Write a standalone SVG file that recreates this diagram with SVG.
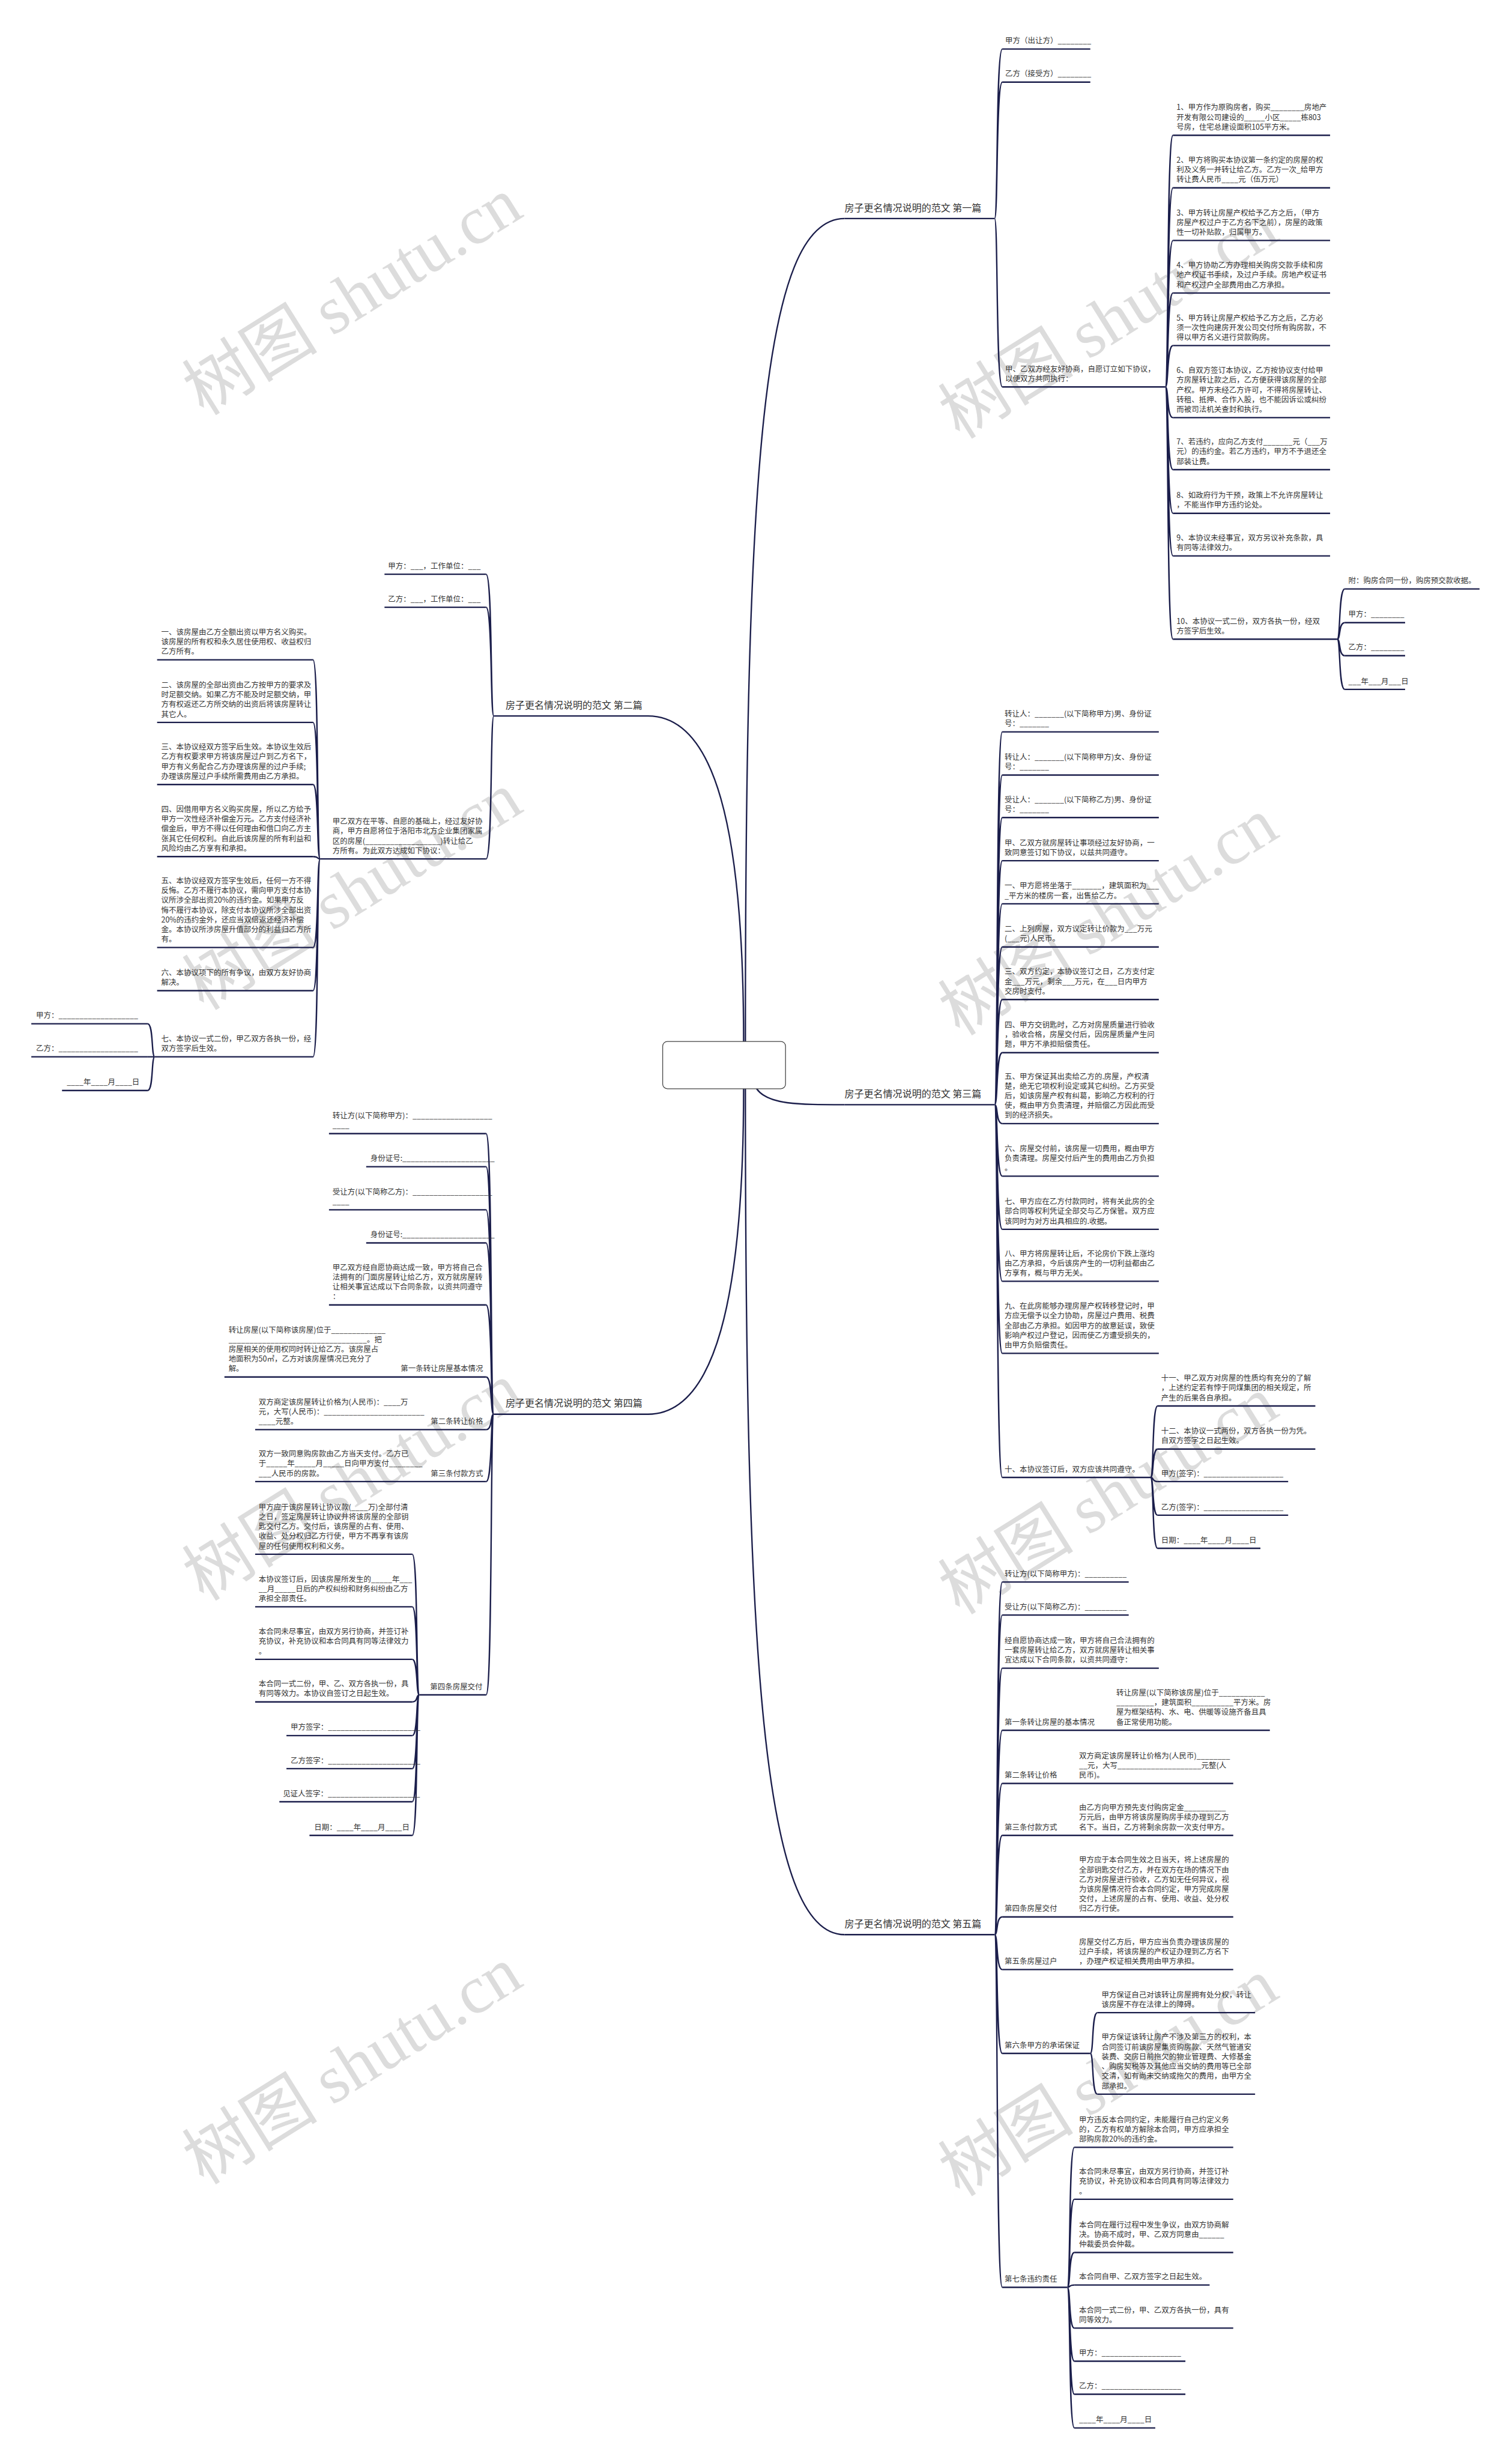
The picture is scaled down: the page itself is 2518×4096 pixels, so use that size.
<svg xmlns="http://www.w3.org/2000/svg" width="2518" height="4096" viewBox="0 0 2518 4096">
<style>
.t{font-family:"Noto Sans CJK SC","Noto Sans",sans-serif;font-size:12.7px;fill:#333}
.m{font-size:16.3px}
.e{text-anchor:end}
.u,.c{fill:none;stroke:#1b1e4b;stroke-width:2.4}
.w{font-family:"Noto Sans CJK SC",sans-serif;font-size:115px;fill:#dcdcdc}
.ws{font-family:"Liberation Serif",serif}
</style>
<rect width="2518" height="4096" fill="#fff"/>
<g transform="scale(0.9836)">
<g id="watermark">
<text class="w" x="345" y="705" transform="rotate(-32 345 705)">树图 <tspan class="ws">shutu.cn</tspan></text>
<text class="w" x="345" y="1712" transform="rotate(-32 345 1712)">树图 <tspan class="ws">shutu.cn</tspan></text>
<text class="w" x="345" y="2712" transform="rotate(-32 345 2712)">树图 <tspan class="ws">shutu.cn</tspan></text>
<text class="w" x="345" y="3700" transform="rotate(-32 345 3700)">树图 <tspan class="ws">shutu.cn</tspan></text>
<text class="w" x="1625" y="745" transform="rotate(-32 1625 745)">树图 <tspan class="ws">shutu.cn</tspan></text>
<text class="w" x="1625" y="1755" transform="rotate(-32 1625 1755)">树图 <tspan class="ws">shutu.cn</tspan></text>
<text class="w" x="1625" y="2735" transform="rotate(-32 1625 2735)">树图 <tspan class="ws">shutu.cn</tspan></text>
<text class="w" x="1625" y="3720" transform="rotate(-32 1625 3720)">树图 <tspan class="ws">shutu.cn</tspan></text>
</g>
<g id="connectors">
<path class="c" d="M1262 1763 C1262 800 1290 370 1430 370"/>
<path class="c" d="M1281 1843 C1300 1870 1350 1870 1430 1870"/>
<path class="c" d="M1262 1843 C1262 2800 1290 3275 1430 3275"/>
<path class="c" d="M1259 1763 C1259 1400 1210 1212 1097 1212"/>
<path class="c" d="M1259 1843 C1259 2200 1210 2394 1097 2394"/>
<path class="c" d="M1684 370 C1690 370 1686 83 1697 83 M1684 370 C1690 370 1686 139 1697 139 M1684 370 C1690 370 1686 655 1697 655"/>
<path class="c" d="M1973 655 C1979 655 1975 229 1986 229 M1973 655 C1979 655 1975 318 1986 318 M1973 655 C1979 655 1975 407 1986 407 M1973 655 C1979 655 1975 496 1986 496 M1973 655 C1979 655 1975 585 1986 585 M1973 655 C1979 655 1975 707 1986 707 M1973 655 C1979 655 1975 795 1986 795 M1973 655 C1979 655 1975 869 1986 869 M1973 655 C1979 655 1975 941 1986 941 M1973 655 C1979 655 1975 1082 1986 1082"/>
<path class="c" d="M2264 1082 C2270 1082 2266 997 2277 997 M2264 1082 C2270 1082 2266 1054 2277 1054 M2264 1082 C2270 1082 2266 1110 2277 1110 M2264 1082 C2270 1082 2266 1167 2277 1167"/>
<path class="c" d="M1684 1870 C1690 1870 1686 1239 1697 1239 M1684 1870 C1690 1870 1686 1312 1697 1312 M1684 1870 C1690 1870 1686 1384 1697 1384 M1684 1870 C1690 1870 1686 1457 1697 1457 M1684 1870 C1690 1870 1686 1530 1697 1530 M1684 1870 C1690 1870 1686 1603 1697 1603 M1684 1870 C1690 1870 1686 1692 1697 1692 M1684 1870 C1690 1870 1686 1782 1697 1782 M1684 1870 C1690 1870 1686 1902 1697 1902 M1684 1870 C1690 1870 1686 1991 1697 1991 M1684 1870 C1690 1870 1686 2081 1697 2081 M1684 1870 C1690 1870 1686 2169 1697 2169 M1684 1870 C1690 1870 1686 2291 1697 2291 M1684 1870 C1690 1870 1686 2501 1697 2501"/>
<path class="c" d="M1948 2501 C1954 2501 1950 2380 1960 2380 M1948 2501 C1954 2501 1950 2453 1960 2453 M1948 2501 C1954 2501 1950 2508 1960 2508 M1948 2501 C1954 2501 1950 2565 1960 2565 M1948 2501 C1954 2501 1950 2621 1960 2621"/>
<path class="c" d="M1684 3275 C1690 3275 1686 2678 1697 2678 M1684 3275 C1690 3275 1686 2734 1697 2734 M1684 3275 C1690 3275 1686 2824 1697 2824 M1684 3275 C1690 3275 1686 2929 1697 2929 M1684 3275 C1690 3275 1686 3019 1697 3019 M1684 3275 C1690 3275 1686 3107 1697 3107 M1684 3275 C1690 3275 1686 3245 1697 3245 M1684 3275 C1690 3275 1686 3334 1697 3334 M1684 3275 C1690 3275 1686 3476 1697 3476 M1684 3275 C1690 3275 1686 3872 1697 3872"/>
<path class="c" d="M1846 3476 C1852 3476 1848 3407 1858 3407 M1846 3476 C1852 3476 1848 3545 1858 3545"/>
<path class="c" d="M1807 3872 C1813 3872 1809 3635 1819 3635 M1807 3872 C1813 3872 1809 3723 1819 3723 M1807 3872 C1813 3872 1809 3813 1819 3813 M1807 3872 C1813 3872 1809 3868 1819 3868 M1807 3872 C1813 3872 1809 3941 1819 3941 M1807 3872 C1813 3872 1809 3997 1819 3997 M1807 3872 C1813 3872 1809 4053 1819 4053 M1807 3872 C1813 3872 1809 4110 1819 4110"/>
<path class="c" d="M836 1212 C830 1212 834 972 823 972 M836 1212 C830 1212 834 1028 823 1028 M836 1212 C830 1212 834 1454 823 1454"/>
<path class="c" d="M542 1454 C536 1454 540 1117 530 1117 M542 1454 C536 1454 540 1223 530 1223 M542 1454 C536 1454 540 1328 530 1328 M542 1454 C536 1454 540 1450 530 1450 M542 1454 C536 1454 540 1604 530 1604 M542 1454 C536 1454 540 1677 530 1677 M542 1454 C536 1454 540 1789 530 1789"/>
<path class="c" d="M262 1789 C256 1789 260 1733 250 1733 M262 1789 L250 1789 M262 1789 C256 1789 260 1846 250 1846"/>
<path class="c" d="M836 2394 C830 2394 834 1919 823 1919 M836 2394 C830 2394 834 1975 823 1975 M836 2394 C830 2394 834 2048 823 2048 M836 2394 C830 2394 834 2104 823 2104 M836 2394 C830 2394 834 2209 823 2209 M836 2394 C830 2394 834 2331 823 2331 M836 2394 C830 2394 834 2420 823 2420 M836 2394 C830 2394 834 2508 823 2508 M836 2394 C830 2394 834 2869 823 2869"/>
<path class="c" d="M710 2869 C704 2869 708 2631 698 2631 M710 2869 C704 2869 708 2720 698 2720 M710 2869 C704 2869 708 2809 698 2809 M710 2869 C704 2869 708 2881 698 2881 M710 2869 C704 2869 708 2938 698 2938 M710 2869 C704 2869 708 2994 698 2994 M710 2869 C704 2869 708 3050 698 3050 M710 2869 C704 2869 708 3107 698 3107"/>
</g>
<g id="root"><rect x="1122" y="1763" width="208" height="80" rx="8" fill="#fff" stroke="#444" stroke-width="1.3"/></g>

<g id="b1"><text class="t m" x="1430" y="357.5">房子更名情况说明的范文 第一篇</text><path class="u" d="M1430 370 H1684"/></g>
<g id="b1-1"><text class="t" x="1702" y="73.5">甲方（出让方）________</text><path class="u" d="M1697 83 H1846"/></g>
<g id="b1-2"><text class="t" x="1702" y="129.5">乙方（接受方）________</text><path class="u" d="M1697 139 H1846"/></g>
<g id="b1-3"><text class="t" x="1702" y="629">甲、乙双方经友好协商，自愿订立如下协议，<tspan x="1702" dy="16.5">以便双方共同执行：</tspan></text><path class="u" d="M1697 655 H1973"/></g>
<g id="b1-3-1"><text class="t" x="1992" y="186.5">1、甲方作为原购房者，购买________房地产<tspan x="1992" dy="16.5">开发有限公司建设的_____小区_____栋803</tspan><tspan x="1992" dy="16.5">号房，住宅总建设面积105平方米。</tspan></text><path class="u" d="M1986 229 H2252"/></g>
<g id="b1-3-2"><text class="t" x="1992" y="275.5">2、甲方将购买本协议第一条约定的房屋的权<tspan x="1992" dy="16.5">利及义务一并转让给乙方。乙方一次_给甲方</tspan><tspan x="1992" dy="16.5">转让费人民币____元（伍万元）</tspan></text><path class="u" d="M1986 318 H2252"/></g>
<g id="b1-3-3"><text class="t" x="1992" y="364.5">3、甲方转让房屋产权给予乙方之后，（甲方<tspan x="1992" dy="16.5">房屋产权过户于乙方名下之前），房屋的政策</tspan><tspan x="1992" dy="16.5">性一切补贴款，归属甲方。</tspan></text><path class="u" d="M1986 407 H2252"/></g>
<g id="b1-3-4"><text class="t" x="1992" y="453.5">4、甲方协助乙方办理相关购房交款手续和房<tspan x="1992" dy="16.5">地产权证书手续，及过户手续。房地产权证书</tspan><tspan x="1992" dy="16.5">和产权过户全部费用由乙方承担。</tspan></text><path class="u" d="M1986 496 H2252"/></g>
<g id="b1-3-5"><text class="t" x="1992" y="542.5">5、甲方转让房屋产权给予乙方之后，乙方必<tspan x="1992" dy="16.5">须一次性向建房开发公司交付所有购房款，不</tspan><tspan x="1992" dy="16.5">得以甲方名义进行贷款购房。</tspan></text><path class="u" d="M1986 585 H2252"/></g>
<g id="b1-3-6"><text class="t" x="1992" y="631.5">6、自双方签订本协议，乙方按协议支付给甲<tspan x="1992" dy="16.5">方房屋转让款之后，乙方便获得该房屋的全部</tspan><tspan x="1992" dy="16.5">产权。甲方未经乙方许可，不得将房屋转让、</tspan><tspan x="1992" dy="16.5">转租、抵押、合作入股，也不能因诉讼或纠纷</tspan><tspan x="1992" dy="16.5">而被司法机关查封和执行。</tspan></text><path class="u" d="M1986 707 H2252"/></g>
<g id="b1-3-7"><text class="t" x="1992" y="752.5">7、若违约，应向乙方支付_______元（___万<tspan x="1992" dy="16.5">元）的违约金。若乙方违约，甲方不予退还全</tspan><tspan x="1992" dy="16.5">部装让费。</tspan></text><path class="u" d="M1986 795 H2252"/></g>
<g id="b1-3-8"><text class="t" x="1992" y="843">8、如政府行为干预，政策上不允许房屋转让<tspan x="1992" dy="16.5">，不能当作甲方违约论处。</tspan></text><path class="u" d="M1986 869 H2252"/></g>
<g id="b1-3-9"><text class="t" x="1992" y="915">9、本协议未经事宜，双方另议补充条款，具<tspan x="1992" dy="16.5">有同等法律效力。</tspan></text><path class="u" d="M1986 941 H2252"/></g>
<g id="b1-3-10"><text class="t" x="1992" y="1056">10、本协议一式二份，双方各执一份，经双<tspan x="1992" dy="16.5">方签字后生效。</tspan></text><path class="u" d="M1986 1082 H2264"/></g>
<g id="b1-3-10-1"><text class="t" x="2283" y="987.5">附：购房合同一份，购房预交款收据。</text><path class="u" d="M2277 997 H2505"/></g>
<g id="b1-3-10-2"><text class="t" x="2283" y="1044.5">甲方：________</text><path class="u" d="M2277 1054 H2379"/></g>
<g id="b1-3-10-3"><text class="t" x="2283" y="1100.5">乙方：________</text><path class="u" d="M2277 1110 H2379"/></g>
<g id="b1-3-10-4"><text class="t" x="2283" y="1157.5">___年___月___日</text><path class="u" d="M2277 1167 H2379"/></g>

<g id="b3"><text class="t m" x="1430" y="1857.5">房子更名情况说明的范文 第三篇</text><path class="u" d="M1430 1870 H1684"/></g>
<g id="b3-1"><text class="t" x="1701" y="1213">转让人：_______(以下简称甲方)男、身份证<tspan x="1701" dy="16.5">号：_______</tspan></text><path class="u" d="M1697 1239 H1962"/></g>
<g id="b3-2"><text class="t" x="1701" y="1286">转让人：_______(以下简称甲方)女、身份证<tspan x="1701" dy="16.5">号：_______</tspan></text><path class="u" d="M1697 1312 H1962"/></g>
<g id="b3-3"><text class="t" x="1701" y="1358">受让人：_______(以下简称乙方)男、身份证<tspan x="1701" dy="16.5">号：_______</tspan></text><path class="u" d="M1697 1384 H1962"/></g>
<g id="b3-4"><text class="t" x="1701" y="1431">甲、乙双方就房屋转让事项经过友好协商，一<tspan x="1701" dy="16.5">致同意签订如下协议，以兹共同遵守。</tspan></text><path class="u" d="M1697 1457 H1962"/></g>
<g id="b3-5"><text class="t" x="1701" y="1504">一、甲方愿将坐落于_______，建筑面积为___<tspan x="1701" dy="16.5">_平方米的楼房一套，出售给乙方。</tspan></text><path class="u" d="M1697 1530 H1962"/></g>
<g id="b3-6"><text class="t" x="1701" y="1577">二、上列房屋，双方议定转让价款为___万元<tspan x="1701" dy="16.5">(___元)人民币。</tspan></text><path class="u" d="M1697 1603 H1962"/></g>
<g id="b3-7"><text class="t" x="1701" y="1649.5">三、双方约定，本协议签订之日，乙方支付定<tspan x="1701" dy="16.5">金___万元，剩余___万元，在___日内甲方</tspan><tspan x="1701" dy="16.5">交房时支付。</tspan></text><path class="u" d="M1697 1692 H1962"/></g>
<g id="b3-8"><text class="t" x="1701" y="1739.5">四、甲方交钥匙时，乙方对房屋质量进行验收<tspan x="1701" dy="16.5">，验收合格，房屋交付后，因房屋质量产生问</tspan><tspan x="1701" dy="16.5">题，甲方不承担赔偿责任。</tspan></text><path class="u" d="M1697 1782 H1962"/></g>
<g id="b3-9"><text class="t" x="1701" y="1826.5">五、甲方保证其出卖给乙方的.房屋，产权清<tspan x="1701" dy="16.5">楚，绝无它项权利设定或其它纠纷。乙方买受</tspan><tspan x="1701" dy="16.5">后，如该房屋产权有纠葛，影响乙方权利的行</tspan><tspan x="1701" dy="16.5">使，概由甲方负责清理，并赔偿乙方因此而受</tspan><tspan x="1701" dy="16.5">到的经济损失。</tspan></text><path class="u" d="M1697 1902 H1962"/></g>
<g id="b3-10"><text class="t" x="1701" y="1948.5">六、房屋交付前，该房屋一切费用，概由甲方<tspan x="1701" dy="16.5">负责清理。房屋交付后产生的费用由乙方负担</tspan><tspan x="1701" dy="16.5">。</tspan></text><path class="u" d="M1697 1991 H1962"/></g>
<g id="b3-11"><text class="t" x="1701" y="2038.5">七、甲方应在乙方付款同时，将有关此房的全<tspan x="1701" dy="16.5">部合同等权利凭证全部交与乙方保管。双方应</tspan><tspan x="1701" dy="16.5">该同时为对方出具相应的.收据。</tspan></text><path class="u" d="M1697 2081 H1962"/></g>
<g id="b3-12"><text class="t" x="1701" y="2126.5">八、甲方将房屋转让后，不论房价下跌上涨均<tspan x="1701" dy="16.5">由乙方承担，今后该房产生的一切利益都由乙</tspan><tspan x="1701" dy="16.5">方享有，概与甲方无关。</tspan></text><path class="u" d="M1697 2169 H1962"/></g>
<g id="b3-13"><text class="t" x="1701" y="2215.5">九、在此房能够办理房屋产权转移登记时，甲<tspan x="1701" dy="16.5">方应无偿予以全力协助，房屋过户费用、税费</tspan><tspan x="1701" dy="16.5">全部由乙方承担。如因甲方的故意延误，致使</tspan><tspan x="1701" dy="16.5">影响产权过户登记，因而使乙方遭受损失的，</tspan><tspan x="1701" dy="16.5">由甲方负赔偿责任。</tspan></text><path class="u" d="M1697 2291 H1962"/></g>
<g id="b3-14"><text class="t" x="1701" y="2491.5">十、本协议签订后，双方应该共同遵守。</text><path class="u" d="M1697 2501 H1948"/></g>
<g id="b3-14-1"><text class="t" x="1966" y="2337.5">十一、甲乙双方对房屋的性质均有充分的了解<tspan x="1966" dy="16.5">，上述约定若有悖于同煤集团的相关规定，所</tspan><tspan x="1966" dy="16.5">产生的后果各自承担。</tspan></text><path class="u" d="M1960 2380 H2227"/></g>
<g id="b3-14-2"><text class="t" x="1966" y="2427">十二、本协议一式两份，双方各执一份为凭。<tspan x="1966" dy="16.5">自双方签字之日起生效。</tspan></text><path class="u" d="M1960 2453 H2227"/></g>
<g id="b3-14-3"><text class="t" x="1966" y="2498.5">甲方(签字)：___________________</text><path class="u" d="M1960 2508 H2181"/></g>
<g id="b3-14-4"><text class="t" x="1966" y="2555.5">乙方(签字)：___________________</text><path class="u" d="M1960 2565 H2181"/></g>
<g id="b3-14-5"><text class="t" x="1966" y="2611.5">日期：____年____月____日</text><path class="u" d="M1960 2621 H2134"/></g>

<g id="b5"><text class="t m" x="1430" y="3262.5">房子更名情况说明的范文 第五篇</text><path class="u" d="M1430 3275 H1684"/></g>
<g id="b5-1"><text class="t" x="1701" y="2668.5">转让方(以下简称甲方)：__________</text><path class="u" d="M1697 2678 H1911"/></g>
<g id="b5-2"><text class="t" x="1701" y="2724.5">受让方(以下简称乙方)：__________</text><path class="u" d="M1697 2734 H1911"/></g>
<g id="b5-3"><text class="t" x="1701" y="2781.5">经自愿协商达成一致，甲方将自己合法拥有的<tspan x="1701" dy="16.5">一套房屋转让给乙方，双方就房屋转让相关事</tspan><tspan x="1701" dy="16.5">宜达成以下合同条款，以资共同遵守：</tspan></text><path class="u" d="M1697 2824 H1962"/></g>
<g id="b5-4"><text class="t" x="1701" y="2919.5">第一条转让房屋的基本情况</text><path class="u" d="M1697 2929 H2150"/></g>
<g id="b5-4-1"><text class="t" x="1890" y="2870">转让房屋(以下简称该房屋)位于___________<tspan x="1890" dy="16.5">_________，建筑面积__________平方米。房</tspan><tspan x="1890" dy="16.5">屋为框架结构、水、电、供暖等设施齐备且具</tspan><tspan x="1890" dy="16.5">备正常使用功能。</tspan></text></g>
<g id="b5-5"><text class="t" x="1701" y="3009.5">第二条转让价格</text><path class="u" d="M1697 3019 H2088"/></g>
<g id="b5-5-1"><text class="t" x="1827" y="2976.5">双方商定该房屋转让价格为(人民币)________<tspan x="1827" dy="16.5">__元，大写____________________元整(人</tspan><tspan x="1827" dy="16.5">民币)。</tspan></text></g>
<g id="b5-6"><text class="t" x="1701" y="3097.5">第三条付款方式</text><path class="u" d="M1697 3107 H2088"/></g>
<g id="b5-6-1"><text class="t" x="1827" y="3064.5">由乙方向甲方预先支付购房定金__________<tspan x="1827" dy="16.5">万元后，由甲方将该房屋购房手续办理到乙方</tspan><tspan x="1827" dy="16.5">名下。当日，乙方将剩余房款一次支付甲方。</tspan></text></g>
<g id="b5-7"><text class="t" x="1701" y="3235.5">第四条房屋交付</text><path class="u" d="M1697 3245 H2088"/></g>
<g id="b5-7-1"><text class="t" x="1827" y="3153">甲方应于本合同生效之日当天，将上述房屋的<tspan x="1827" dy="16.5">全部钥匙交付乙方，并在双方在场的情况下由</tspan><tspan x="1827" dy="16.5">乙方对房屋进行验收，乙方如无任何异议，视</tspan><tspan x="1827" dy="16.5">为该房屋情况符合本合同约定，甲方完成房屋</tspan><tspan x="1827" dy="16.5">交付，上述房屋的占有、使用、收益、处分权</tspan><tspan x="1827" dy="16.5">归乙方行使。</tspan></text></g>
<g id="b5-8"><text class="t" x="1701" y="3324.5">第五条房屋过户</text><path class="u" d="M1697 3334 H2088"/></g>
<g id="b5-8-1"><text class="t" x="1827" y="3291.5">房屋交付乙方后，甲方应当负责办理该房屋的<tspan x="1827" dy="16.5">过户手续，将该房屋的产权证办理到乙方名下</tspan><tspan x="1827" dy="16.5">，办理产权证相关费用由甲方承担。</tspan></text></g>
<g id="b5-9"><text class="t" x="1701" y="3466.5">第六条甲方的承诺保证</text><path class="u" d="M1697 3476 H1846"/></g>
<g id="b5-9-1"><text class="t" x="1865" y="3381">甲方保证自己对该转让房屋拥有处分权，转让<tspan x="1865" dy="16.5">该房屋不存在法律上的障碍。</tspan></text><path class="u" d="M1858 3407 H2125"/></g>
<g id="b5-9-2"><text class="t" x="1865" y="3453">甲方保证该转让房产不涉及第三方的权利，本<tspan x="1865" dy="16.5">合同签订前该房屋集资购房款、天然气管道安</tspan><tspan x="1865" dy="16.5">装费、交房日前拖欠的物业管理费、大修基金</tspan><tspan x="1865" dy="16.5">、购房契税等及其他应当交纳的费用等已全部</tspan><tspan x="1865" dy="16.5">交清，如有尚未交纳或拖欠的费用，由甲方全</tspan><tspan x="1865" dy="16.5">部承担。</tspan></text><path class="u" d="M1858 3545 H2125"/></g>
<g id="b5-10"><text class="t" x="1701" y="3862.5">第七条违约责任</text><path class="u" d="M1697 3872 H1807"/></g>
<g id="b5-10-1"><text class="t" x="1827" y="3592.5">甲方违反本合同约定，未能履行自己约定义务<tspan x="1827" dy="16.5">的，乙方有权单方解除本合同，甲方应承担全</tspan><tspan x="1827" dy="16.5">部购房款20%的违约金。</tspan></text><path class="u" d="M1819 3635 H2088"/></g>
<g id="b5-10-2"><text class="t" x="1827" y="3680.5">本合同未尽事宜，由双方另行协商，并签订补<tspan x="1827" dy="16.5">充协议，补充协议和本合同具有同等法律效力</tspan><tspan x="1827" dy="16.5">。</tspan></text><path class="u" d="M1819 3723 H2088"/></g>
<g id="b5-10-3"><text class="t" x="1827" y="3770.5">本合同在履行过程中发生争议，由双方协商解<tspan x="1827" dy="16.5">决。协商不成时，甲、乙双方同意由______</tspan><tspan x="1827" dy="16.5">仲裁委员会仲裁。</tspan></text><path class="u" d="M1819 3813 H2088"/></g>
<g id="b5-10-4"><text class="t" x="1827" y="3858.5">本合同自甲、乙双方签字之日起生效。</text><path class="u" d="M1819 3868 H2048"/></g>
<g id="b5-10-5"><text class="t" x="1827" y="3915">本合同一式二份，甲、乙双方各执一份，具有<tspan x="1827" dy="16.5">同等效力。</tspan></text><path class="u" d="M1819 3941 H2088"/></g>
<g id="b5-10-6"><text class="t" x="1827" y="3987.5">甲方：___________________</text><path class="u" d="M1819 3997 H2007"/></g>
<g id="b5-10-7"><text class="t" x="1827" y="4043.5">乙方：___________________</text><path class="u" d="M1819 4053 H2007"/></g>
<g id="b5-10-8"><text class="t" x="1827" y="4100.5">____年____月____日</text><path class="u" d="M1819 4110 H1956"/></g>

<g id="b2"><text class="t m" x="856" y="1199.5">房子更名情况说明的范文 第二篇</text><path class="u" d="M1097 1212 H836"/></g>
<g id="b2-1"><text class="t" x="657" y="962.5">甲方：___，工作单位：___</text><path class="u" d="M823 972 H651"/></g>
<g id="b2-2"><text class="t" x="657" y="1018.5">乙方：___，工作单位：___</text><path class="u" d="M823 1028 H651"/></g>
<g id="b2-3"><text class="t" x="563" y="1395">甲乙双方在平等、自愿的基础上，经过友好协<tspan x="563" dy="16.5">商，甲方自愿将位于洛阳市北方企业集团家属</tspan><tspan x="563" dy="16.5">区的房屋(__________________)转让给乙</tspan><tspan x="563" dy="16.5">方所有。为此双方达成如下协议：</tspan></text><path class="u" d="M823 1454 H542"/></g>
<g id="b2-3-1"><text class="t" x="273" y="1074.5">一、该房屋由乙方全额出资以甲方名义购买。<tspan x="273" dy="16.5">该房屋的所有权和永久居住使用权、收益权归</tspan><tspan x="273" dy="16.5">乙方所有。</tspan></text><path class="u" d="M530 1117 H266"/></g>
<g id="b2-3-2"><text class="t" x="273" y="1164">二、该房屋的全部出资由乙方按甲方的要求及<tspan x="273" dy="16.5">时足额交纳。如果乙方不能及时足额交纳，甲</tspan><tspan x="273" dy="16.5">方有权返还乙方所交纳的出资后将该房屋转让</tspan><tspan x="273" dy="16.5">其它人。</tspan></text><path class="u" d="M530 1223 H266"/></g>
<g id="b2-3-3"><text class="t" x="273" y="1269">三、本协议经双方签字后生效。本协议生效后<tspan x="273" dy="16.5">乙方有权要求甲方将该房屋过户到乙方名下，</tspan><tspan x="273" dy="16.5">甲方有义务配合乙方办理该房屋的过户手续;</tspan><tspan x="273" dy="16.5">办理该房屋过户手续所需费用由乙方承担。</tspan></text><path class="u" d="M530 1328 H266"/></g>
<g id="b2-3-4"><text class="t" x="273" y="1374.5">四、因借用甲方名义购买房屋，所以乙方给予<tspan x="273" dy="16.5">甲方一次性经济补偿金万元。乙方支付经济补</tspan><tspan x="273" dy="16.5">偿金后，甲方不得以任何理由和借口向乙方主</tspan><tspan x="273" dy="16.5">张其它任何权利。自此后该房屋的所有利益和</tspan><tspan x="273" dy="16.5">风险均由乙方享有和承担。</tspan></text><path class="u" d="M530 1450 H266"/></g>
<g id="b2-3-5"><text class="t" x="273" y="1495.5">五、本协议经双方签字生效后，任何一方不得<tspan x="273" dy="16.5">反悔。乙方不履行本协议，需向甲方支付本协</tspan><tspan x="273" dy="16.5">议所涉全部出资20%的违约金。如果甲方反</tspan><tspan x="273" dy="16.5">悔不履行本协议，除支付本协议所涉全部出资</tspan><tspan x="273" dy="16.5">20%的违约金外，还应当双倍返还经济补偿</tspan><tspan x="273" dy="16.5">金。本协议所涉房屋升值部分的利益归乙方所</tspan><tspan x="273" dy="16.5">有。</tspan></text><path class="u" d="M530 1604 H266"/></g>
<g id="b2-3-6"><text class="t" x="273" y="1651">六、本协议项下的所有争议，由双方友好协商<tspan x="273" dy="16.5">解决。</tspan></text><path class="u" d="M530 1677 H266"/></g>
<g id="b2-3-7"><text class="t" x="273" y="1763">七、本协议一式二份，甲乙双方各执一份，经<tspan x="273" dy="16.5">双方签字后生效。</tspan></text><path class="u" d="M530 1789 H262"/></g>
<g id="b2-3-7-1"><text class="t" x="61" y="1723.5">甲方：___________________</text><path class="u" d="M250 1733 H53"/></g>
<g id="b2-3-7-2"><text class="t" x="61" y="1779.5">乙方：___________________</text><path class="u" d="M250 1789 H53"/></g>
<g id="b2-3-7-3"><text class="t" x="113" y="1836.5">____年____月____日</text><path class="u" d="M250 1846 H105"/></g>

<g id="b4"><text class="t m" x="856" y="2381.5">房子更名情况说明的范文 第四篇</text><path class="u" d="M1097 2394 H836"/></g>
<g id="b4-1"><text class="t" x="563" y="1893">转让方(以下简称甲方)：___________________<tspan x="563" dy="16.5">____</tspan></text><path class="u" d="M823 1919 H557"/></g>
<g id="b4-2"><text class="t" x="627" y="1965.5">身份证号:______________________</text><path class="u" d="M823 1975 H620"/></g>
<g id="b4-3"><text class="t" x="563" y="2022">受让方(以下简称乙方)：___________________<tspan x="563" dy="16.5">____</tspan></text><path class="u" d="M823 2048 H557"/></g>
<g id="b4-4"><text class="t" x="627" y="2094.5">身份证号:______________________</text><path class="u" d="M823 2104 H620"/></g>
<g id="b4-5"><text class="t" x="563" y="2150">甲乙双方经自愿协商达成一致，甲方将自己合<tspan x="563" dy="16.5">法拥有的门面房屋转让给乙方，双方就房屋转</tspan><tspan x="563" dy="16.5">让相关事宜达成以下合同条款，以资共同遵守</tspan><tspan x="563" dy="16.5">：</tspan></text><path class="u" d="M823 2209 H557"/></g>
<g id="b4-6"><text class="t e" x="818" y="2321.5">第一条转让房屋基本情况</text><path class="u" d="M823 2331 H380"/></g>
<g id="b4-6-1"><text class="t" x="387" y="2255.5">转让房屋(以下简称该房屋)位于_____________<tspan x="387" dy="16.5">_________________________________。把</tspan><tspan x="387" dy="16.5">房屋相关的使用权同时转让给乙方。该房屋占</tspan><tspan x="387" dy="16.5">地面积为50㎡，乙方对该房屋情况已充分了</tspan><tspan x="387" dy="16.5">解。</tspan></text></g>
<g id="b4-7"><text class="t e" x="818" y="2410.5">第二条转让价格</text><path class="u" d="M823 2420 H432"/></g>
<g id="b4-7-1"><text class="t" x="438" y="2377.5">双方商定该房屋转让价格为(人民币)：____万<tspan x="438" dy="16.5">元，大写(人民币)：________________________</tspan><tspan x="438" dy="16.5">____元整。</tspan></text></g>
<g id="b4-8"><text class="t e" x="818" y="2498.5">第三条付款方式</text><path class="u" d="M823 2508 H432"/></g>
<g id="b4-8-1"><text class="t" x="438" y="2465.5">双方一致同意购房款由乙方当天支付。乙方已<tspan x="438" dy="16.5">于_____年_____月_____日向甲方支付________</tspan><tspan x="438" dy="16.5">___人民币的房款。</tspan></text></g>
<g id="b4-9"><text class="t e" x="817" y="2859.5">第四条房屋交付</text><path class="u" d="M823 2869 H710"/></g>
<g id="b4-9-1"><text class="t" x="438" y="2555.5">甲方应于该房屋转让协议款(____万)全部付清<tspan x="438" dy="16.5">之日，签定房屋转让协议并将该房屋的全部钥</tspan><tspan x="438" dy="16.5">匙交付乙方。交付后，该房屋的占有、使用、</tspan><tspan x="438" dy="16.5">收益、处分权归乙方行使，甲方不再享有该房</tspan><tspan x="438" dy="16.5">屋的任何使用权利和义务。</tspan></text><path class="u" d="M698 2631 H432"/></g>
<g id="b4-9-2"><text class="t" x="438" y="2677.5">本协议签订后，因该房屋所发生的_____年___<tspan x="438" dy="16.5">__月_____日后的产权纠纷和财务纠纷由乙方</tspan><tspan x="438" dy="16.5">承担全部责任。</tspan></text><path class="u" d="M698 2720 H432"/></g>
<g id="b4-9-3"><text class="t" x="438" y="2766.5">本合同未尽事宜，由双方另行协商，并签订补<tspan x="438" dy="16.5">充协议，补充协议和本合同具有同等法律效力</tspan><tspan x="438" dy="16.5">。</tspan></text><path class="u" d="M698 2809 H432"/></g>
<g id="b4-9-4"><text class="t" x="438" y="2855">本合同一式二份，甲、乙、双方各执一份，具<tspan x="438" dy="16.5">有同等效力。本协议自签订之日起生效。</tspan></text><path class="u" d="M698 2881 H432"/></g>
<g id="b4-9-5"><text class="t" x="492" y="2928.5">甲方签字：______________________</text><path class="u" d="M698 2938 H485"/></g>
<g id="b4-9-6"><text class="t" x="492" y="2984.5">乙方签字：______________________</text><path class="u" d="M698 2994 H485"/></g>
<g id="b4-9-7"><text class="t" x="479" y="3040.5">见证人签字：______________________</text><path class="u" d="M698 3050 H473"/></g>
<g id="b4-9-8"><text class="t" x="532" y="3097.5">日期：____年____月____日</text><path class="u" d="M698 3107 H524"/></g>
</g>
</svg>
